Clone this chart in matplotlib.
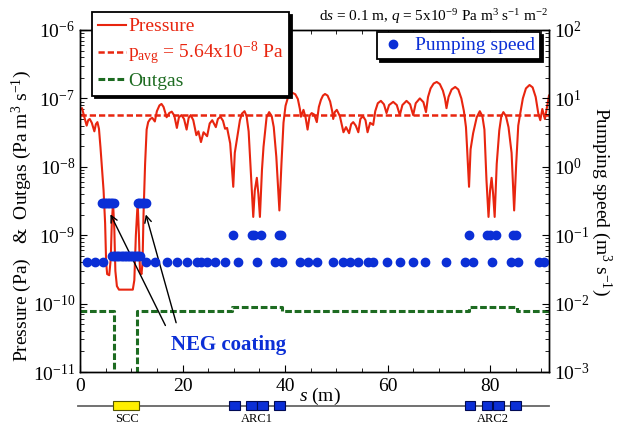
import matplotlib
matplotlib.use('Agg')
from matplotlib import pyplot as plt
from matplotlib.ticker import MultipleLocator, LogLocator
from matplotlib.patches import Rectangle

plt.rcParams['font.family'] = ['Liberation Serif', 'DejaVu Serif']
plt.rcParams['mathtext.fontset'] = 'custom'
plt.rcParams['mathtext.rm'] = 'Liberation Serif'
plt.rcParams['mathtext.it'] = 'Liberation Serif:italic'
plt.rcParams['mathtext.bf'] = 'Liberation Serif:bold'

RED = '#e8250f'
BLUE = '#0b2fd6'
GREEN = '#1d6b21'

# pressure profile along s (m)
s_pressure = [0.0, 0.4, 0.8, 1.3, 1.6, 1.9, 2.3, 2.8, 3.1, 3.4, 3.7, 4.0, 4.3, 4.6, 4.9,
              5.1, 5.3, 5.7, 6.0, 6.2, 6.45, 6.7, 6.9, 7.2, 7.6, 10.3, 10.6, 10.9, 11.25,
              11.5, 11.7, 12.0, 12.2, 12.4, 12.7, 13.0, 13.3, 13.7, 14.1, 14.6, 15.0, 15.5,
              15.9, 16.3, 16.9, 17.4, 17.9, 18.4, 18.9, 19.3, 19.8, 20.3, 20.8, 21.2, 21.6,
              22.1, 22.7, 23.1, 23.6, 24.1, 24.8, 25.3, 25.8, 26.5, 26.9, 27.4, 27.9, 28.3,
              28.7, 29.3, 29.9, 30.2, 30.6, 31.2, 31.6, 32.1, 32.5, 32.9, 33.4, 33.8, 34.1,
              34.5, 34.8, 35.1, 35.5, 35.8, 36.4, 36.9, 37.4, 37.8, 38.3, 38.9, 39.3, 39.7,
              40.1, 40.6, 41.0, 41.5, 42.0, 42.5, 42.9, 43.1, 43.6, 44.0, 44.4, 44.8, 45.2,
              45.7, 46.2, 46.6, 47.0, 47.4, 47.8, 48.3, 48.8, 49.2, 49.4, 49.7, 50.1, 50.7,
              51.4, 51.9, 52.5, 52.9, 53.3, 53.8, 54.3, 54.7, 55.2, 55.7, 56.1, 56.6, 57.2,
              57.6, 58.1, 58.7, 59.3, 59.8, 60.3, 61.1, 61.8, 62.4, 62.9, 63.7, 64.4, 65.0,
              65.5, 66.3, 67.0, 67.5, 67.9, 68.4, 69.0, 69.6, 70.2, 70.8, 71.2, 71.5, 71.9,
              72.5, 73.2, 73.8, 74.4, 74.9, 75.3, 75.5, 75.9, 76.2, 76.7, 77.4, 78.0, 78.5,
              78.9, 79.3, 79.7, 80.0, 80.3, 80.6, 80.9, 81.3, 81.8, 82.2, 82.6, 83.1, 83.6,
              84.2, 84.7, 85.1, 85.5, 85.9, 86.4, 87.0, 87.7, 88.3, 88.9, 89.4, 89.8, 90.2,
              90.7, 91.5]
pressure = [6.8e-8, 7.2e-8, 5.5e-8, 4.0e-8, 4.8e-8, 5.0e-8, 4.4e-8, 3.3e-8, 4.2e-8, 4.5e-8,
            3.6e-8, 1.9e-8, 9.0e-9, 4.5e-9, 1.5e-9, 4.0e-10, 2.7e-10, 2.6e-10, 4.5e-10,
            1.5e-9, 3.0e-9, 1.2e-9, 3.0e-10, 1.8e-10, 1.6e-10, 1.6e-10, 2.2e-10, 1.0e-9,
            3.0e-9, 1.0e-9, 3.0e-10, 2.7e-10, 4.0e-10, 2.1e-9, 1.1e-8, 3.5e-8, 4.5e-8,
            5.0e-8, 5.2e-8, 4.6e-8, 6.5e-8, 7.9e-8, 8.3e-8, 7.5e-8, 5.3e-8, 6.1e-8, 6.4e-8,
            5.6e-8, 3.7e-8, 5.3e-8, 5.7e-8, 5.0e-8, 3.5e-8, 5.2e-8, 5.7e-8, 4.8e-8, 2.9e-8,
            3.3e-8, 2.3e-8, 3.2e-8, 2.8e-8, 4.3e-8, 4.8e-8, 3.8e-8, 5.0e-8, 5.4e-8, 4.7e-8,
            3.6e-8, 3.7e-8, 2.2e-8, 5.1e-9, 1.6e-8, 2.5e-8, 4.8e-8, 6.0e-8, 6.5e-8, 5.5e-8,
            3.3e-8, 6.4e-9, 1.85e-9, 4.5e-9, 6.9e-9, 4.0e-9, 1.85e-9, 9.0e-9, 1.95e-8,
            5.3e-8, 6.3e-8, 5.5e-8, 3.8e-8, 1.4e-8, 2.3e-9, 1.1e-8, 4.4e-8, 7.8e-8, 1.05e-7,
            1.16e-7, 1.2e-7, 1.15e-7, 9.8e-8, 7.0e-8, 5.4e-8, 6.8e-8, 5.3e-8, 3.5e-8, 5.6e-8,
            6.1e-8, 5.8e-8, 4.5e-8, 7.5e-8, 9.5e-8, 1.1e-7, 1.16e-7, 1.1e-7, 9.0e-8, 6.5e-8,
            5.0e-8, 6.3e-8, 6.8e-8, 5.5e-8, 3.2e-8, 3.8e-8, 3.1e-8, 4.2e-8, 4.5e-8, 4.0e-8,
            3.2e-8, 5.0e-8, 5.5e-8, 4.8e-8, 3.2e-8, 4.4e-8, 4.1e-8, 6.5e-8, 8.5e-8, 9.2e-8,
            8.2e-8, 6.1e-8, 8.0e-8, 8.9e-8, 8.0e-8, 5.7e-8, 8.0e-8, 9.2e-8, 8.2e-8, 5.7e-8,
            8.5e-8, 1.0e-7, 8.8e-8, 6.3e-8, 1.05e-7, 1.4e-7, 1.65e-7, 1.74e-7, 1.62e-7,
            1.3e-7, 1.0e-7, 7.2e-8, 1.05e-7, 1.35e-7, 1.47e-7, 1.35e-7, 1.0e-7, 6.5e-8,
            3.8e-8, 2.0e-8, 5.1e-9, 1.8e-8, 3.1e-8, 5.3e-8, 6.5e-8, 5.5e-8, 3.5e-8, 6.4e-9,
            1.85e-9, 4.5e-9, 6.9e-9, 4.0e-9, 1.85e-9, 1.1e-8, 3.4e-8, 5.5e-8, 6.3e-8, 5.5e-8,
            3.8e-8, 1.6e-8, 2.3e-9, 1.1e-8, 4.0e-8, 6.1e-8, 1.0e-7, 1.4e-7, 1.57e-7, 1.45e-7,
            1.05e-7, 6.1e-8, 4.8e-8, 7.0e-8, 5.0e-8, 1.1e-7]
p_avg = 5.64e-8

# outgassing (step profile)
outgas_s = [0.0, 6.6, 6.6, 11.1, 11.1, 29.6, 29.6, 39.4, 39.4, 75.8, 75.8, 85.2, 85.2, 91.5]
outgas = [7.8e-11, 7.8e-11, 1e-12, 1e-12, 7.8e-11, 7.8e-11, 8.9e-11, 8.9e-11,
          7.8e-11, 7.8e-11, 8.9e-11, 8.9e-11, 7.8e-11, 7.8e-11]

# pumps (m^3/s)
ion_pump_s = [1.3, 2.9, 4.5, 12.9, 14.6, 16.9, 18.9, 20.8, 22.8, 23.6, 24.8, 26.4, 28.2,
              30.8, 34.5, 38.1, 39.4, 43.0, 44.4, 46.2, 49.4, 51.4, 52.7, 54.3, 56.1, 57.2,
              59.9, 62.4, 65.0, 67.4, 71.5, 75.2, 76.6, 80.3, 84.0, 85.4, 89.5, 90.5]
ion_pump_speed = 0.04
arc_pump_s = [29.9, 33.5, 33.9, 35.3, 38.8, 39.2, 75.8, 79.4, 79.9, 81.2, 84.5, 85.0]
arc_pump_speed = 0.1
neg_high_s = [4.2, 4.5, 4.8, 5.1, 5.4, 5.7, 6.0, 6.3, 6.6,
              11.3, 11.6, 11.9, 12.2, 12.5, 12.8]
neg_high_speed = 0.3
neg_low_s = [6.3, 6.6, 6.9, 7.2, 7.5, 7.8, 8.1, 8.4, 8.7, 9.0, 9.3, 9.6, 9.9, 10.2,
             10.5, 10.8, 11.1, 11.4, 11.7]
neg_low_speed = 0.05

# machine layout under the axis
scc_range = (6.5, 11.6)
arc_magnets = [30.1, 33.4, 35.6, 38.9, 76.1, 79.4, 81.6, 84.9]
magnet_width = 2.1
layout_labels = [('SCC', 9.1), ('ARC1', 34.5), ('ARC2', 80.5)]

s_max = 91.5

fig = plt.figure(figsize=(6.25, 4.29), dpi=100)
ax = fig.add_axes([80 / 625, 1 - 372 / 429, 469 / 625, 342 / 429])

l_p, = ax.semilogy(s_pressure, pressure, color=RED, lw=1.5, label='Pressure')
l_avg = ax.axhline(p_avg, color=RED, lw=1.8, ls=(0, (2.5, 1.2)),
                   label=r'p$_{\rm avg}$ = 5.64x10$^{-8}$ Pa')
l_q, = ax.plot(outgas_s, outgas, color=GREEN, lw=2.2, ls=(0, (2.2, 0.9)), label='Outgas')

ax.set_xlim(0, s_max)
ax.set_ylim(1e-11, 1e-6)
ax.xaxis.set_major_locator(MultipleLocator(20))
ax.xaxis.set_minor_locator(MultipleLocator(5))
ax.yaxis.set_minor_locator(LogLocator(subs=range(2, 10), numticks=20))
ax.tick_params(which='both', direction='in', top=True, right=False, labelsize=14)
ax.tick_params(which='major', length=5)
ax.tick_params(which='minor', length=3)
ax.tick_params(axis='x', pad=4)

ax2 = ax.twinx()
ax2.set_yscale('log')
all_s = ion_pump_s + arc_pump_s + neg_high_s + neg_low_s
all_speed = ([ion_pump_speed] * len(ion_pump_s) + [arc_pump_speed] * len(arc_pump_s)
             + [neg_high_speed] * len(neg_high_s) + [neg_low_speed] * len(neg_low_s))
l_s, = ax2.plot(all_s, all_speed, 'o', color=BLUE, ms=6, label='Pumping speed')
ax2.set_ylim(1e-3, 1e2)
ax2.yaxis.set_minor_locator(LogLocator(subs=range(2, 10), numticks=20))
ax2.tick_params(which='both', direction='in', labelsize=14)
ax2.tick_params(which='major', length=5)
ax2.tick_params(which='minor', length=3)

for a in (ax, ax2):
    for sp in a.spines.values():
        sp.set_linewidth(1.0)

# arrows to the NEG coated section
ax.annotate('', xy=(5.7, 2.2e-9), xytext=(16.9, 4.4e-11),
            arrowprops=dict(arrowstyle='->', color='k', lw=1, mutation_scale=12))
ax.annotate('', xy=(12.7, 2.2e-9), xytext=(18.9, 4.8e-11),
            arrowprops=dict(arrowstyle='->', color='k', lw=1, mutation_scale=12))
ax.text(28.9, 2.5e-11, 'NEG coating', color=BLUE, fontsize=15, fontweight='bold',
        ha='center', va='center')

leg1 = fig.legend(handles=[l_p, l_avg, l_q], loc='upper left',
                  bbox_to_anchor=(92 / 625, 1 - 12 / 429), fontsize=14,
                  labelcolor='linecolor', fancybox=False, edgecolor='k', framealpha=1,
                  shadow={'color': 'k', 'alpha': 1}, handlelength=1.45,
                  handletextpad=0.1, labelspacing=0.25, borderpad=0.3, borderaxespad=0)
leg1.get_frame().set_linewidth(1.3)
leg2 = fig.legend(handles=[l_s], loc='upper right',
                  bbox_to_anchor=(540 / 625, 1 - 32 / 429), fontsize=14,
                  labelcolor=BLUE, fancybox=False, edgecolor='k', framealpha=1,
                  shadow={'color': 'k', 'alpha': 1}, handlelength=1.1,
                  handletextpad=0.6, borderpad=0.25, borderaxespad=0)
leg2.get_frame().set_linewidth(1.3)

fig.text(22 / 625, 1 - 216 / 429,
         r'Pressure (Pa)   &  Outgas (Pa m$^3$ s$^{-1}$)',
         rotation=90, ha='center', va='center', fontsize=14)
fig.text(601 / 625, 1 - 202 / 429, r'Pumping speed (m$^3$ s$^{-1}$)',
         rotation=270, ha='center', va='center', fontsize=14)
fig.text(320 / 625, 1 - 396 / 429, r'$s$ (m)', ha='center', va='center', fontsize=14)
fig.text(548 / 625, 1 - 21 / 429,
         r'd$s$ = 0.1 m, $q$ = 5x10$^{-9}$ Pa m$^3$ s$^{-1}$ m$^{-2}$',
         ha='right', va='baseline', fontsize=11)

# layout strip
ax3 = fig.add_axes([80 / 625, 4 / 429, 469 / 625, 28 / 429])
ax3.set_xlim(0, s_max)
ax3.set_ylim(0, 1)
ax3.axis('off')
ax3.plot([-0.4, s_max], [0.69, 0.69], color='#666666', lw=1.3, clip_on=False, zorder=1)
ax3.add_patch(Rectangle((scc_range[0], 0.54), scc_range[1] - scc_range[0], 0.3,
                        facecolor='#ffee00', edgecolor='#555500', lw=0.8, zorder=2))
for m in arc_magnets:
    ax3.add_patch(Rectangle((m - magnet_width / 2, 0.54), magnet_width, 0.3,
                            facecolor=BLUE, edgecolor='#000a55', lw=0.8, zorder=2))
for name, pos in layout_labels:
    ax3.text(pos, 0.22, name, ha='center', va='center', fontsize=9)

fig.savefig('out.png', dpi=100)
